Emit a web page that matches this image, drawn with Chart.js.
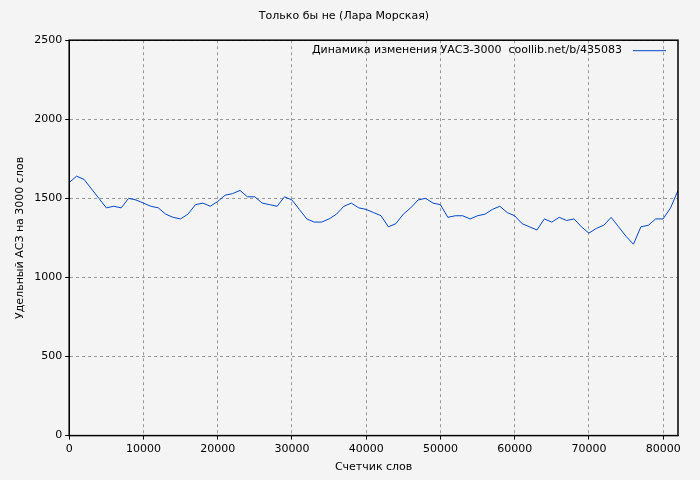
<!DOCTYPE html>
<html><head><meta charset="utf-8">
<script src="https://cdn.jsdelivr.net/npm/chart.js@4"></script>
<style>body{margin:0;background:#f4f4f4}#wrap{width:700px;height:480px}</style>
</head><body><div id="wrap"><canvas id="chart"></canvas></div>
<script>
const xs = [];
for (let i = 0; i <= 82; i++) xs.push(i * 1000);
const values = [1600,1640,1620,1560,1500,1440,1450,1440,1500,1490,1470,1450,1440,1400,1380,1370,1400,1460,1470,1450,1480,1520,1530,1550,1510,1510,1470,1460,1450,1510,1490,1430,1370,1350,1350,1370,1400,1450,1470,1440,1430,1410,1390,1320,1340,1400,1440,1490,1500,1470,1460,1380,1390,1390,1370,1390,1400,1430,1450,1410,1390,1340,1320,1300,1370,1350,1380,1360,1370,1320,1280,1310,1330,1380,1320,1260,1210,1320,1330,1370,1370,1440,1550];
const xTicks = [0,10000,20000,30000,40000,50000,60000,70000,80000];
const title = "Только бы не (Лара Морская)";
const seriesLabel = "Динамика изменения УАСЗ-3000  coollib.net/b/435083";

const legendPlugin = {
  id: "rightLegend",
  afterDraw(chart) {
    const { ctx, chartArea } = chart;
    ctx.save();
    ctx.font = "11px 'DejaVu Sans'";
    ctx.fillStyle = "#000";
    ctx.textAlign = "right";
    ctx.textBaseline = "middle";
    const y = chartArea.top + 10;
    ctx.fillText(seriesLabel, chartArea.right - 56, y);
    ctx.strokeStyle = "#0047c8";
    ctx.lineWidth = 1;
    ctx.beginPath();
    ctx.moveTo(chartArea.right - 45, y + 0.5);
    ctx.lineTo(chartArea.right - 12, y + 0.5);
    ctx.stroke();
    ctx.restore();
  }
};

Chart.defaults.font.family = "'DejaVu Sans'";
Chart.defaults.font.size = 11;
Chart.defaults.color = "#000";

new Chart(document.getElementById("chart"), {
  type: "line",
  data: {
    datasets: [{
      label: seriesLabel,
      data: xs.map((x, i) => ({ x: x, y: values[i] })),
      borderColor: "#0047c8",
      borderWidth: 1,
      pointRadius: 0,
      tension: 0
    }]
  },
  options: {
    responsive: true,
    maintainAspectRatio: false,
    animation: false,
    layout: { padding: { top: 4, right: 22, left: 10, bottom: 2 } },
    plugins: {
      legend: { display: false },
      title: { display: true, text: title, font: { size: 11, weight: "normal" }, padding: { top: 6, bottom: 17 } },
      tooltip: { enabled: false }
    },
    scales: {
      x: {
        type: "linear", min: 0, max: 82000,
        afterBuildTicks: axis => { axis.ticks = xTicks.map(v => ({ value: v })); },
        ticks: { maxRotation: 0, autoSkip: false, callback: v => String(v) },
        grid: { color: "#999", tickColor: "#000", tickLength: 4 },
        border: { color: "#000", dash: [3, 3] },
        title: { display: true, text: "Счетчик слов", padding: { top: 2 } }
      },
      y: {
        min: 0, max: 2500,
        ticks: { stepSize: 500, callback: v => String(v) },
        grid: { color: "#999", tickColor: "#000", tickLength: 4 },
        border: { color: "#000", dash: [3, 3] },
        title: { display: true, text: "Удельный АСЗ на 3000 слов" }
      }
    }
  },
  plugins: [legendPlugin, {
    id: "frame",
    beforeDraw(chart) {
      const { ctx } = chart;
      ctx.save(); ctx.fillStyle = "#f4f4f4"; ctx.fillRect(0, 0, chart.width, chart.height); ctx.restore();
    },
    afterDraw(chart) {
      const { ctx, chartArea: a } = chart;
      ctx.save(); ctx.strokeStyle = "#000"; ctx.lineWidth = 1.5;
      ctx.strokeRect(a.left, a.top, a.right - a.left, a.bottom - a.top); ctx.restore();
    }
  }]
});
</script></body></html>
